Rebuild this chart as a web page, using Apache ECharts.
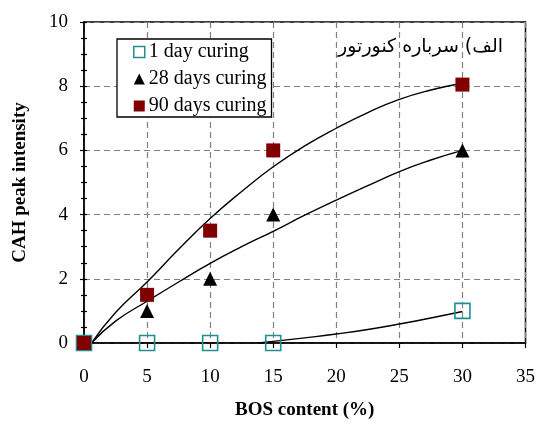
<!DOCTYPE html>
<html>
<head>
<meta charset="utf-8">
<script src="https://cdn.jsdelivr.net/npm/echarts@6/dist/echarts.min.js"></script>
<style>html,body{margin:0;padding:0;background:#fff;}#c{width:538px;height:425px;}</style>
</head>
<body>
<div id="c"></div>
<script>
// BOS content (%)
const bosContent = [0, 5, 10, 15, 30];
// CAH peak intensity
const day1 = [0, 0, 0, 0, 1];
const day28 = [0, 1, 2, 4, 6];
const day90 = [0, 1.5, 3.5, 6, 8.05];
// trendlines
const trend1X = [13.8, 15, 17.5, 20, 22.5, 25, 27.5, 30];
const trend1Y = [0, 0.05, 0.16, 0.28, 0.42, 0.59, 0.78, 0.98];
const trend28X = [0.6, 2.5, 5, 7.5, 10, 12.5, 15, 17.5, 20, 22.5, 25, 27.5, 30];
const trend28Y = [0, 0.68, 1.3, 1.9, 2.48, 3.0, 3.48, 3.98, 4.45, 4.9, 5.34, 5.7, 6.0];
const trend90X = [0.6, 2.5, 5, 7.5, 10, 12.5, 15, 17.5, 20, 22.5, 25, 27.5, 30];
const trend90Y = [0, 0.95, 1.9, 2.92, 3.88, 4.72, 5.49, 6.14, 6.69, 7.18, 7.59, 7.88, 8.09];
const seriesNames = ['1 day curing', '28 days curing', '90 days curing'];
const xTicks = [0, 5, 10, 15, 20, 25, 30, 35];
const yTicks = [0, 2, 4, 6, 8, 10];
const panelLabel = 'الف) سرباره کنورتور';

const zip = (xs, ys) => xs.map((x, i) => [x, ys[i]]);
const serif = '"Liberation Serif", "Times New Roman", serif';
const teal = '#1f8f8f';
const red = '#7f0000';

const yBase = {
  type: 'value', min: yTicks[0], max: yTicks[yTicks.length - 1], interval: 2
};

const chart = echarts.init(document.getElementById('c'), null, {renderer: 'canvas'});
chart.setOption({
  animation: false,
  backgroundColor: '#fff',
  grid: {left: 84, right: 11, top: 22, bottom: 82, show: true, borderColor: '#000', borderWidth: 1.5, backgroundColor: 'transparent'},
  xAxis: {
    type: 'value', min: xTicks[0], max: xTicks[xTicks.length - 1], interval: 5,
    name: 'BOS content (%)', nameLocation: 'middle', nameGap: 58,
    nameTextStyle: {fontFamily: serif, fontWeight: 'bold', fontSize: 19, color: '#000'},
    axisLine: {lineStyle: {color: '#000', width: 1.5}},
    axisTick: {show: true, inside: false, length: 5, lineStyle: {color: '#000', width: 1.2}},
    axisLabel: {fontFamily: serif, fontSize: 19, color: '#000', margin: 25},
    splitLine: {show: true, lineStyle: {color: '#808080', type: [6, 4], width: 1.2}}
  },
  yAxis: [
    Object.assign({}, yBase, {
      name: 'CAH peak intensity', nameLocation: 'middle', nameGap: 54,
      nameTextStyle: {fontFamily: serif, fontWeight: 'bold', fontSize: 19, color: '#000'},
      axisLine: {show: true, lineStyle: {color: '#000', width: 1.5}},
      axisTick: {show: true, inside: false, length: 4, lineStyle: {color: '#000', width: 1.2}},
      minorTick: {show: true, splitNumber: 4, length: 3, lineStyle: {color: '#000', width: 1.2}},
      axisLabel: {fontFamily: serif, fontSize: 19, color: '#000', margin: 16},
      splitLine: {show: true, lineStyle: {color: '#808080', type: [6, 4], width: 1.2}}
    }),
    Object.assign({}, yBase, {
      position: 'left', offset: 0,
      axisLine: {show: false},
      axisTick: {show: true, inside: true, length: 3, lineStyle: {color: '#000', width: 1.2}},
      minorTick: {show: true, splitNumber: 4, length: 3, lineStyle: {color: '#000', width: 1.2}},
      axisLabel: {show: false},
      splitLine: {show: false}
    })
  ],
  legend: {
    left: 117, top: 39, orient: 'vertical', itemGap: 7, itemWidth: 11, itemHeight: 11,
    padding: [3, 5, 1, 16],
    borderColor: '#000', borderWidth: 1.3, backgroundColor: '#fff',
    textStyle: {fontFamily: serif, fontSize: 20, color: '#000', padding: [0, 0, 0, -1]},
    data: [
      {name: seriesNames[0], icon: 'rect', itemStyle: {color: '#fff', borderColor: teal, borderWidth: 1.5}},
      {name: seriesNames[1], icon: 'triangle', itemStyle: {color: '#000', borderWidth: 0}},
      {name: seriesNames[2], icon: 'rect', itemStyle: {color: red, borderWidth: 0}}
    ]
  },
  graphic: [{
    type: 'text', right: 35, top: 38,
    style: {text: panelLabel, fontFamily: '"DejaVu Sans", "Noto Sans", sans-serif', fontSize: 19, fill: '#000'}
  }],
  series: [
    {type: 'line', data: zip(trend1X, trend1Y), smooth: true, showSymbol: false, lineStyle: {color: '#000', width: 1.4}, silent: true, z: 2},
    {type: 'line', data: zip(trend28X, trend28Y), smooth: true, showSymbol: false, lineStyle: {color: '#000', width: 1.4}, silent: true, z: 2},
    {type: 'line', data: zip(trend90X, trend90Y), smooth: true, showSymbol: false, lineStyle: {color: '#000', width: 1.4}, silent: true, z: 2},
    {name: seriesNames[0], type: 'scatter', data: zip(bosContent, day1), symbol: 'rect', symbolSize: 15, clip: false, z: 3,
      itemStyle: {color: 'rgba(255,255,255,0)', borderColor: teal, borderWidth: 1.6, opacity: 1}},
    {name: seriesNames[1], type: 'scatter', data: zip(bosContent, day28), symbol: 'triangle', symbolSize: 14, clip: false, z: 4,
      itemStyle: {color: '#000', opacity: 1}},
    {name: seriesNames[2], type: 'scatter', data: zip(bosContent, day90), symbol: 'rect', symbolSize: 14, clip: false, z: 5,
      itemStyle: {color: red, opacity: 1}}
  ]
});
</script>
</body>
</html>
